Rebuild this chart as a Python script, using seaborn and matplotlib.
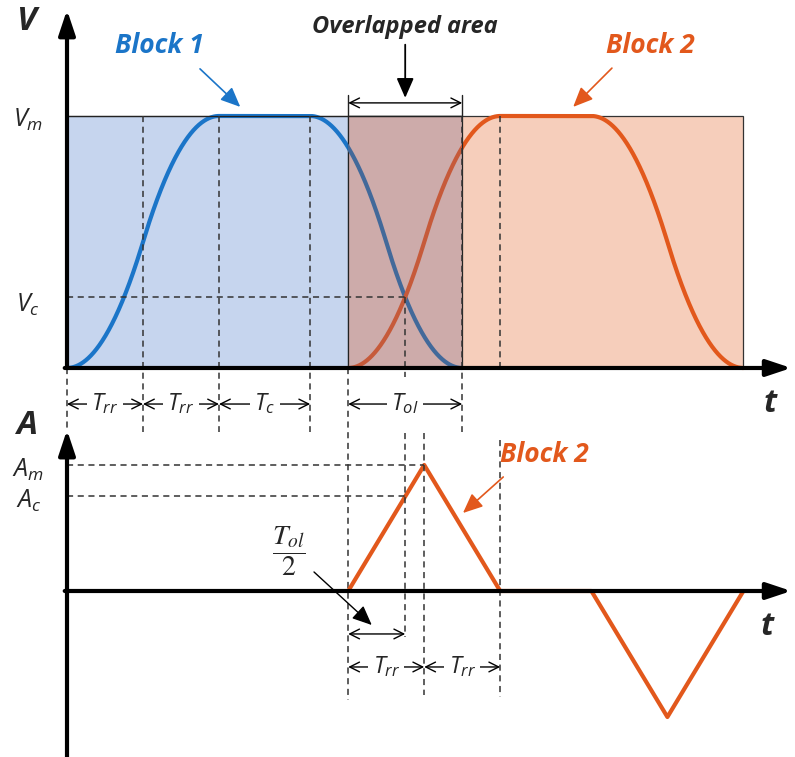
import numpy as np
import pandas as pd
import matplotlib
matplotlib.use("Agg")
import matplotlib.pyplot as plt
import seaborn as sns
from matplotlib.patches import Rectangle

# ---- motion-profile parameters (normalised units) ----
T_RR = 1.0            # duration of one jerk-limited ramp segment
T_C = 1.2             # constant-velocity duration
V_M = 1.0             # peak velocity
A_M = 1.0             # peak acceleration
BLOCK_NAMES = ["Block 1", "Block 2"]
BLOCK_STARTS = [0.0, 3.7]

# acceleration knots of one block, relative to the block start
ACC_KNOT_T = [0.0, T_RR, 2 * T_RR, 2 * T_RR + T_C, 3 * T_RR + T_C, 4 * T_RR + T_C]
ACC_KNOT_A = [0.0, A_M, 0.0, 0.0, -A_M, 0.0]

T_BLOCK = ACC_KNOT_T[-1]
T_OL = BLOCK_STARTS[0] + T_BLOCK - BLOCK_STARTS[1]

# velocity of one block = integral of its acceleration
tt = np.linspace(0.0, T_BLOCK, 2001)
aa = np.interp(tt, ACC_KNOT_T, ACC_KNOT_A)
vv = np.concatenate([[0.0], np.cumsum(0.5 * (aa[1:] + aa[:-1]) * np.diff(tt))])
vv = vv * V_M / vv.max()

V_C = float(np.interp(T_OL / 2, tt, vv))
A_C = float(np.interp(T_OL / 2, ACC_KNOT_T, ACC_KNOT_A))

vel = pd.concat([pd.DataFrame({"t": tt + s, "v": vv, "block": n})
                 for s, n in zip(BLOCK_STARTS, BLOCK_NAMES)], ignore_index=True)
acc = pd.DataFrame({"t": np.array(ACC_KNOT_T) + BLOCK_STARTS[1], "a": ACC_KNOT_A})

# ---- colours ----
BLUE = "#1B75C8"
ORANGE = "#E2581C"
BLUE_FILL = "#C6D5EE"
ORANGE_FILL = "#F6CEBB"
OVERLAP_FILL = "#CDABAA"
BLUE_DIM = "#42699A"
ORANGE_DIM = "#C65A3A"
DASH = (0, (4, 3))
FONT = "Open Sans"

sns.set_theme(style="white")
plt.rcParams["font.family"] = [FONT, "DejaVu Sans"]
plt.rcParams["mathtext.fontset"] = "custom"
plt.rcParams["mathtext.it"] = FONT + ":italic"
plt.rcParams["mathtext.rm"] = FONT
plt.rcParams["mathtext.bf"] = FONT + ":bold"

fig = plt.figure(figsize=(7.95, 7.57), dpi=100)
fig.patch.set_facecolor("white")
ax_v = fig.add_axes([0, 0, 1, 1])
ax_a = fig.add_axes([0, 0, 1, 1])
for ax in (ax_v, ax_a):
    ax.set_axis_off()
    ax.set_xlim(-0.8816, 9.5789)
ax_v.set_ylim(-1.5437, 1.4603)
ax_a.set_ylim(-1.3175, 4.6905)

t1, t2 = BLOCK_STARTS
# ---- velocity panel ----
ax_v.add_patch(Rectangle((t1, 0), T_BLOCK, V_M, fc=BLUE_FILL, ec="#333333", lw=0.9, zorder=1))
ax_v.add_patch(Rectangle((t2, 0), T_BLOCK, V_M, fc=ORANGE_FILL, ec="#333333", lw=0.9, zorder=1))
sns.lineplot(data=vel, x="t", y="v", hue="block", palette=[BLUE, ORANGE],
             linewidth=3, legend=False, ax=ax_v, zorder=2, sort=False)
ov = Rectangle((t2, 0), T_OL, V_M, fc=OVERLAP_FILL, ec="#222222", lw=0.9, zorder=3)
ax_v.add_patch(ov)
for name, col in zip(BLOCK_NAMES, [BLUE_DIM, ORANGE_DIM]):
    d = vel[vel.block == name]
    ln, = ax_v.plot(d.t, d.v, color=col, lw=3, zorder=3.5)
    ln.set_clip_path(ov)

# guide lines
ax_v.plot([t1, t1 + 2 * T_RR + T_C + 2 * T_RR], [V_M, V_M], color="#222222", lw=0.9, zorder=4)
for x in [t1 + T_RR, t1 + 2 * T_RR, t1 + 2 * T_RR + T_C, t1 + T_BLOCK]:
    ax_v.plot([x, x], [V_M, -0.254], color="#333333", lw=1.1, ls=DASH, zorder=4)
ax_v.plot([t1, t1], [0, -0.254], color="#333333", lw=1.1, ls=DASH, zorder=4)
ax_v.plot([t2, t2], [0, -1.3175], color="#333333", lw=1.1, ls=DASH, zorder=4)
ax_v.plot([t2 + 2 * T_RR] * 2, [V_M, 0], color="#333333", lw=1.1, ls=DASH, zorder=4)
ax_v.plot([t2 + T_OL / 2] * 2, [V_C, -0.036], color="#333333", lw=1.1, ls=DASH, zorder=4)
ax_v.plot([t1, t2 + T_OL / 2], [V_C, V_C], color="#333333", lw=1.1, ls=DASH, zorder=4)

# axes arrows
axis_arrow = dict(arrowstyle="-|>,head_length=0.75,head_width=0.25", lw=3, color="black",
                  mutation_scale=20, shrinkA=0, shrinkB=0)
ax_v.annotate("", xy=(0, 1.421), xytext=(0, 0), arrowprops=axis_arrow, zorder=6)
ax_v.annotate("", xy=(9.53, 0), xytext=(-0.03, 0), arrowprops=axis_arrow, zorder=6)
ax_v.text(-0.526, 1.373, "V", fontsize=24, fontweight="bold", fontstyle="italic",
          ha="center", va="center")
ax_v.text(9.25, -0.139, "t", fontsize=23, fontweight="bold", fontstyle="italic",
          ha="center", va="center")
ax_v.text(-0.51, V_M - 0.015, r"$V_m$", fontsize=18, ha="center", va="center")
ax_v.text(-0.51, V_C - 0.03, r"$V_c$", fontsize=18, ha="center", va="center")

# interval labels
span = dict(arrowstyle="<->,head_length=0.5,head_width=0.25", lw=1.0, color="black",
            mutation_scale=14, shrinkA=0, shrinkB=0)
box = dict(fc="white", ec="none", pad=3)
for a, b, lab, ax, y in [
        (t1, t1 + T_RR, r"$T_{rr}$", ax_v, -0.143),
        (t1 + T_RR, t1 + 2 * T_RR, r"$T_{rr}$", ax_v, -0.143),
        (t1 + 2 * T_RR, t1 + 2 * T_RR + T_C, r"$T_c$", ax_v, -0.143),
        (t2, t2 + T_OL, r"$T_{ol}$", ax_v, -0.143),
        (t2, t2 + T_RR, r"$T_{rr}$", ax_a, -0.603),
        (t2 + T_RR, t2 + 2 * T_RR, r"$T_{rr}$", ax_a, -0.603)]:
    ax.annotate("", xy=(b, y), xytext=(a, y), arrowprops=span, zorder=5)
    ax.text((a + b) / 2, y, lab, fontsize=17, ha="center", va="center", bbox=box, zorder=6)

# overlapped-area bracket
ax_v.annotate("", xy=(t2 + T_OL, 1.052), xytext=(t2, 1.052), arrowprops=span, zorder=5)
for x in [t2, t2 + T_OL]:
    ax_v.plot([x, x], [V_M, 1.083], color="#222222", lw=1.0, zorder=5)
ax_v.annotate("", xy=(t2 + T_OL / 2, 1.072), xytext=(t2 + T_OL / 2, 1.283),
              arrowprops=dict(arrowstyle="-|>,head_length=0.8,head_width=0.35", lw=1.3,
                              color="black", mutation_scale=15, shrinkA=0, shrinkB=0))
ax_v.text(t2 + T_OL / 2, 1.355, "Overlapped area", fontsize=17, fontweight="bold",
          fontstyle="italic", ha="center", va="center")

# block callouts
def callout(ax, xy, xyt, text, txy, col):
    ax.annotate("", xy=xy, xytext=xyt,
                arrowprops=dict(arrowstyle="-|>,head_length=0.8,head_width=0.35", lw=1.2,
                                color=col, mutation_scale=15, shrinkA=0, shrinkB=0))
    ax.text(*txy, text, color=col, fontsize=19, fontweight="bold", fontstyle="italic",
            ha="center", va="center")

callout(ax_v, (2.28, 1.036), (1.75, 1.187), "Block 1", (1.22, 1.278), BLUE)
callout(ax_v, (6.66, 1.036), (7.17, 1.190), "Block 2", (7.68, 1.278), ORANGE)

# ---- acceleration panel ----
sns.lineplot(data=acc, x="t", y="a", color=ORANGE, linewidth=3, ax=ax_a, zorder=3, sort=False)
ax_a.plot([t1, t2 + T_RR], [A_M, A_M], color="#333333", lw=1.1, ls=DASH, zorder=4)
ax_a.plot([t1, t2 + T_OL / 2], [A_C, A_C], color="#333333", lw=1.1, ls=DASH, zorder=4)
ax_a.plot([t2 + T_OL / 2] * 2, [1.254, -0.365], color="#333333", lw=1.1, ls=DASH, zorder=4)
ax_a.plot([t2 + T_RR] * 2, [1.254, -0.825], color="#333333", lw=1.1, ls=DASH, zorder=4)
ax_a.plot([t2 + 2 * T_RR] * 2, [1.198, -0.841], color="#333333", lw=1.1, ls=DASH, zorder=4)

ax_a.annotate("", xy=(0, 1.278), xytext=(0, -1.32), arrowprops=axis_arrow, zorder=6)
ax_a.annotate("", xy=(9.53, 0), xytext=(-0.03, 0), arrowprops=axis_arrow, zorder=6)
ax_a.text(-0.526, 1.317, "A", fontsize=24, fontweight="bold", fontstyle="italic",
          ha="center", va="center")
ax_a.text(9.21, -0.278, "t", fontsize=23, fontweight="bold", fontstyle="italic",
          ha="center", va="center")
ax_a.text(-0.51, A_M - 0.04, r"$A_m$", fontsize=18, ha="center", va="center")
ax_a.text(-0.51, A_C - 0.035, r"$A_c$", fontsize=18, ha="center", va="center")

ax_a.annotate("", xy=(t2 + T_OL / 2, -0.341), xytext=(t2, -0.341), arrowprops=span, zorder=5)
ax_a.text(2.92, 0.317, r"$\dfrac{T_{ol}}{2}$", fontsize=20, math_fontfamily="stix",
          ha="center", va="center")
ax_a.annotate("", xy=(4.01, -0.27), xytext=(3.25, 0.151),
              arrowprops=dict(arrowstyle="-|>,head_length=0.8,head_width=0.35", lw=1.0,
                              color="black", mutation_scale=15, shrinkA=0, shrinkB=0))
callout(ax_a, (5.21, 0.619), (5.74, 0.905), "Block 2", (6.28, 1.087), ORANGE)

fig.savefig("out.png", dpi=100, facecolor="white")
